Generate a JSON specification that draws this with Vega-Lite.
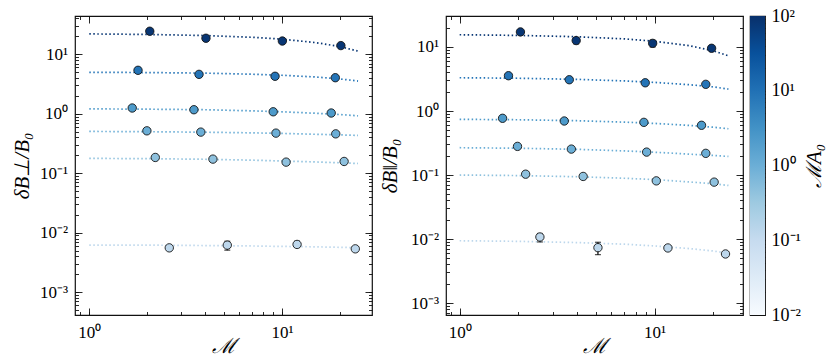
{
  "$schema": "https://vega.github.io/schema/vega-lite/v6.json",
  "autosize": {"type": "pad"},
  "padding": {"left": 10, "top": 6, "right": 2, "bottom": 2},
  "background": "white",
  "config": {
    "view": {"stroke": "#111", "strokeWidth": 1.2},
    "axis": {"domain": false, "grid": false, "ticks": true, "labelFont": "Liberation Serif", "labelFontSize": 17, "labelColor": "black", "titleFont": "Liberation Serif", "titleFontSize": 21, "titleFontWeight": "normal", "titleColor": "black", "tickColor": "#111", "tickWidth": 0.9, "labelOverlap": false, "labelFlush": false, "labelBound": false}
  },
  "datasets": {
    "pts": [
      {"p": "L", "s": 1, "m": 80, "x": 2.06, "y": 24.4}, {"p": "L", "s": 1, "m": 80, "x": 4.03, "y": 18.6}, {"p": "L", "s": 1, "m": 80, "x": 10.04, "y": 16.7}, {"p": "L", "s": 1, "m": 80, "x": 20.2, "y": 14.0},
      {"p": "L", "s": 2, "m": 9, "x": 1.79, "y": 5.38}, {"p": "L", "s": 2, "m": 9, "x": 3.71, "y": 4.6}, {"p": "L", "s": 2, "m": 9, "x": 9.2, "y": 4.27}, {"p": "L", "s": 2, "m": 9, "x": 18.9, "y": 4.04},
      {"p": "L", "s": 3, "m": 2.3, "x": 1.67, "y": 1.25}, {"p": "L", "s": 3, "m": 2.3, "x": 3.49, "y": 1.17}, {"p": "L", "s": 3, "m": 2.3, "x": 9.0, "y": 1.08}, {"p": "L", "s": 3, "m": 2.3, "x": 18.0, "y": 1.03},
      {"p": "L", "s": 4, "m": 1, "x": 1.99, "y": 0.517}, {"p": "L", "s": 4, "m": 1, "x": 3.79, "y": 0.492}, {"p": "L", "s": 4, "m": 1, "x": 9.3, "y": 0.473}, {"p": "L", "s": 4, "m": 1, "x": 19.0, "y": 0.46},
      {"p": "L", "s": 5, "m": 0.45, "x": 2.2, "y": 0.1845}, {"p": "L", "s": 5, "m": 0.45, "x": 4.38, "y": 0.173}, {"p": "L", "s": 5, "m": 0.45, "x": 10.5, "y": 0.154}, {"p": "L", "s": 5, "m": 0.45, "x": 21.0, "y": 0.158},
      {"p": "L", "s": 6, "m": 0.13, "x": 2.6, "y": 0.00558}, {"p": "L", "s": 6, "m": 0.13, "x": 5.2, "y": 0.0062}, {"p": "L", "s": 6, "m": 0.13, "x": 11.97, "y": 0.00637}, {"p": "L", "s": 6, "m": 0.13, "x": 24.0, "y": 0.00537},
      {"p": "R", "s": 1, "m": 80, "x": 2.05, "y": 17.2}, {"p": "R", "s": 1, "m": 80, "x": 3.96, "y": 12.6}, {"p": "R", "s": 1, "m": 80, "x": 9.77, "y": 11.4}, {"p": "R", "s": 1, "m": 80, "x": 19.6, "y": 9.55},
      {"p": "R", "s": 2, "m": 9, "x": 1.78, "y": 3.56}, {"p": "R", "s": 2, "m": 9, "x": 3.65, "y": 3.08}, {"p": "R", "s": 2, "m": 9, "x": 8.95, "y": 2.76}, {"p": "R", "s": 2, "m": 9, "x": 18.3, "y": 2.61},
      {"p": "R", "s": 3, "m": 2.3, "x": 1.66, "y": 0.769}, {"p": "R", "s": 3, "m": 2.3, "x": 3.44, "y": 0.698}, {"p": "R", "s": 3, "m": 2.3, "x": 8.81, "y": 0.665}, {"p": "R", "s": 3, "m": 2.3, "x": 17.4, "y": 0.598},
      {"p": "R", "s": 4, "m": 1, "x": 1.98, "y": 0.28}, {"p": "R", "s": 4, "m": 1, "x": 3.74, "y": 0.254}, {"p": "R", "s": 4, "m": 1, "x": 9.1, "y": 0.228}, {"p": "R", "s": 4, "m": 1, "x": 18.3, "y": 0.218},
      {"p": "R", "s": 5, "m": 0.45, "x": 2.18, "y": 0.103}, {"p": "R", "s": 5, "m": 0.45, "x": 4.3, "y": 0.095}, {"p": "R", "s": 5, "m": 0.45, "x": 10.2, "y": 0.081}, {"p": "R", "s": 5, "m": 0.45, "x": 20.2, "y": 0.0774},
      {"p": "R", "s": 6, "m": 0.13, "x": 2.58, "y": 0.01075}, {"p": "R", "s": 6, "m": 0.13, "x": 5.12, "y": 0.00733}, {"p": "R", "s": 6, "m": 0.13, "x": 11.7, "y": 0.00725}, {"p": "R", "s": 6, "m": 0.13, "x": 23.1, "y": 0.00584}
    ],
    "fit": [
      {"p": "L", "s": 1, "m": 80, "x": 1, "y": 22.0}, {"p": "L", "s": 1, "m": 80, "x": 2, "y": 21.55}, {"p": "L", "s": 1, "m": 80, "x": 4, "y": 20.65}, {"p": "L", "s": 1, "m": 80, "x": 7, "y": 19.3}, {"p": "L", "s": 1, "m": 80, "x": 10, "y": 17.95}, {"p": "L", "s": 1, "m": 80, "x": 15, "y": 15.7}, {"p": "L", "s": 1, "m": 80, "x": 20, "y": 13.46}, {"p": "L", "s": 1, "m": 80, "x": 24.8, "y": 11.3},
      {"p": "L", "s": 2, "m": 9, "x": 1, "y": 4.98}, {"p": "L", "s": 2, "m": 9, "x": 2, "y": 4.93}, {"p": "L", "s": 2, "m": 9, "x": 4, "y": 4.82}, {"p": "L", "s": 2, "m": 9, "x": 7, "y": 4.62}, {"p": "L", "s": 2, "m": 9, "x": 10, "y": 4.44}, {"p": "L", "s": 2, "m": 9, "x": 15, "y": 4.15}, {"p": "L", "s": 2, "m": 9, "x": 20, "y": 3.85}, {"p": "L", "s": 2, "m": 9, "x": 24.8, "y": 3.55},
      {"p": "L", "s": 3, "m": 2.3, "x": 1, "y": 1.21}, {"p": "L", "s": 3, "m": 2.3, "x": 2, "y": 1.195}, {"p": "L", "s": 3, "m": 2.3, "x": 4, "y": 1.17}, {"p": "L", "s": 3, "m": 2.3, "x": 7, "y": 1.12}, {"p": "L", "s": 3, "m": 2.3, "x": 10, "y": 1.08}, {"p": "L", "s": 3, "m": 2.3, "x": 15, "y": 1.02}, {"p": "L", "s": 3, "m": 2.3, "x": 20, "y": 0.97}, {"p": "L", "s": 3, "m": 2.3, "x": 24.8, "y": 0.925},
      {"p": "L", "s": 4, "m": 1, "x": 1, "y": 0.505}, {"p": "L", "s": 4, "m": 1, "x": 2, "y": 0.5}, {"p": "L", "s": 4, "m": 1, "x": 4, "y": 0.49}, {"p": "L", "s": 4, "m": 1, "x": 7, "y": 0.478}, {"p": "L", "s": 4, "m": 1, "x": 10, "y": 0.468}, {"p": "L", "s": 4, "m": 1, "x": 15, "y": 0.452}, {"p": "L", "s": 4, "m": 1, "x": 20, "y": 0.442}, {"p": "L", "s": 4, "m": 1, "x": 24.8, "y": 0.433},
      {"p": "L", "s": 5, "m": 0.45, "x": 1, "y": 0.178}, {"p": "L", "s": 5, "m": 0.45, "x": 2, "y": 0.176}, {"p": "L", "s": 5, "m": 0.45, "x": 4, "y": 0.172}, {"p": "L", "s": 5, "m": 0.45, "x": 7, "y": 0.166}, {"p": "L", "s": 5, "m": 0.45, "x": 10, "y": 0.161}, {"p": "L", "s": 5, "m": 0.45, "x": 15, "y": 0.155}, {"p": "L", "s": 5, "m": 0.45, "x": 20, "y": 0.15}, {"p": "L", "s": 5, "m": 0.45, "x": 24.8, "y": 0.146},
      {"p": "L", "s": 6, "m": 0.13, "x": 1, "y": 0.0062}, {"p": "L", "s": 6, "m": 0.13, "x": 2, "y": 0.0062}, {"p": "L", "s": 6, "m": 0.13, "x": 4, "y": 0.0061}, {"p": "L", "s": 6, "m": 0.13, "x": 7, "y": 0.006}, {"p": "L", "s": 6, "m": 0.13, "x": 10, "y": 0.0059}, {"p": "L", "s": 6, "m": 0.13, "x": 15, "y": 0.0058}, {"p": "L", "s": 6, "m": 0.13, "x": 20, "y": 0.0057}, {"p": "L", "s": 6, "m": 0.13, "x": 24.8, "y": 0.0056},
      {"p": "R", "s": 1, "m": 80, "x": 1, "y": 15.54}, {"p": "R", "s": 1, "m": 80, "x": 2, "y": 15.18}, {"p": "R", "s": 1, "m": 80, "x": 4, "y": 14.46}, {"p": "R", "s": 1, "m": 80, "x": 7, "y": 13.38}, {"p": "R", "s": 1, "m": 80, "x": 10, "y": 12.3}, {"p": "R", "s": 1, "m": 80, "x": 15, "y": 10.5}, {"p": "R", "s": 1, "m": 80, "x": 20, "y": 8.71}, {"p": "R", "s": 1, "m": 80, "x": 23.9, "y": 7.3},
      {"p": "R", "s": 2, "m": 9, "x": 1, "y": 3.31}, {"p": "R", "s": 2, "m": 9, "x": 2, "y": 3.25}, {"p": "R", "s": 2, "m": 9, "x": 4, "y": 3.12}, {"p": "R", "s": 2, "m": 9, "x": 7, "y": 2.95}, {"p": "R", "s": 2, "m": 9, "x": 10, "y": 2.8}, {"p": "R", "s": 2, "m": 9, "x": 15, "y": 2.58}, {"p": "R", "s": 2, "m": 9, "x": 20, "y": 2.38}, {"p": "R", "s": 2, "m": 9, "x": 23.9, "y": 2.2},
      {"p": "R", "s": 3, "m": 2.3, "x": 1, "y": 0.741}, {"p": "R", "s": 3, "m": 2.3, "x": 2, "y": 0.73}, {"p": "R", "s": 3, "m": 2.3, "x": 4, "y": 0.705}, {"p": "R", "s": 3, "m": 2.3, "x": 7, "y": 0.67}, {"p": "R", "s": 3, "m": 2.3, "x": 10, "y": 0.64}, {"p": "R", "s": 3, "m": 2.3, "x": 15, "y": 0.596}, {"p": "R", "s": 3, "m": 2.3, "x": 20, "y": 0.558}, {"p": "R", "s": 3, "m": 2.3, "x": 23.9, "y": 0.528},
      {"p": "R", "s": 4, "m": 1, "x": 1, "y": 0.267}, {"p": "R", "s": 4, "m": 1, "x": 2, "y": 0.262}, {"p": "R", "s": 4, "m": 1, "x": 4, "y": 0.252}, {"p": "R", "s": 4, "m": 1, "x": 7, "y": 0.238}, {"p": "R", "s": 4, "m": 1, "x": 10, "y": 0.227}, {"p": "R", "s": 4, "m": 1, "x": 15, "y": 0.212}, {"p": "R", "s": 4, "m": 1, "x": 20, "y": 0.202}, {"p": "R", "s": 4, "m": 1, "x": 23.9, "y": 0.195},
      {"p": "R", "s": 5, "m": 0.45, "x": 1, "y": 0.1}, {"p": "R", "s": 5, "m": 0.45, "x": 2, "y": 0.098}, {"p": "R", "s": 5, "m": 0.45, "x": 4, "y": 0.094}, {"p": "R", "s": 5, "m": 0.45, "x": 7, "y": 0.089}, {"p": "R", "s": 5, "m": 0.45, "x": 10, "y": 0.085}, {"p": "R", "s": 5, "m": 0.45, "x": 15, "y": 0.078}, {"p": "R", "s": 5, "m": 0.45, "x": 20, "y": 0.073}, {"p": "R", "s": 5, "m": 0.45, "x": 23.9, "y": 0.0687},
      {"p": "R", "s": 6, "m": 0.13, "x": 1, "y": 0.0094}, {"p": "R", "s": 6, "m": 0.13, "x": 2, "y": 0.0092}, {"p": "R", "s": 6, "m": 0.13, "x": 4, "y": 0.0088}, {"p": "R", "s": 6, "m": 0.13, "x": 7, "y": 0.0083}, {"p": "R", "s": 6, "m": 0.13, "x": 10, "y": 0.0078}, {"p": "R", "s": 6, "m": 0.13, "x": 15, "y": 0.0071}, {"p": "R", "s": 6, "m": 0.13, "x": 20, "y": 0.0065}, {"p": "R", "s": 6, "m": 0.13, "x": 23.9, "y": 0.006}
    ],
    "err": [
      {"p": "L", "x": 5.2, "lo": 0.0051, "hi": 0.0072},
      {"p": "L", "x": 11.97, "lo": 0.0057, "hi": 0.0072},
      {"p": "R", "x": 2.58, "lo": 0.009, "hi": 0.0122},
      {"p": "R", "x": 5.12, "lo": 0.0057, "hi": 0.0089},
      {"p": "R", "x": 3.96, "lo": 11.2, "hi": 14.0},
      {"p": "R", "x": 9.77, "lo": 10.0, "hi": 12.8}
    ],
    "cbar": [{"lo": 0.01, "hi": 100}]
  },
  "hconcat": [
    {
      "width": 297, "height": 299,
      "layer": [
        {
          "data": {"name": "fit"}, "transform": [{"filter": "datum.p == 'L'"}],
          "mark": {"type": "line", "strokeDash": [1.5, 2.5], "strokeWidth": 1.7, "clip": true},
          "encoding": {
            "x": {"field": "x", "type": "quantitative", "scale": {"type": "log", "domain": [0.843, 29.3], "nice": false},
              "axis": {"orient": "bottom", "title": "ℳ", "values": [0.9, 1, 2, 3, 4, 5, 6, 7, 8, 9, 10, 20],
                "labelExpr": "abs(log(datum.value)/LN10 - round(log(datum.value)/LN10)) < 0.001 ? '10' + replace(replace(replace(replace(replace(''+round(log(datum.value)/LN10),'-','⁻'),'0','⁰'),'1','¹'),'2','²'),'3','³') : ''",
                "tickSize": -3.5,
                "labelPadding": 13, "titleX": 148.5, "titleY": 31, "titleBaseline": "middle", "titleAlign": "center", "titleFontStyle": "italic"}},
            "y": {"field": "y", "type": "quantitative", "scale": {"type": "log", "domain": [0.000415, 44], "nice": false},
              "axis": {"orient": "left", "title": "δB⊥/B₀", "values": [0.0005, 0.0006, 0.0007, 0.0008, 0.0009, 0.001, 0.002, 0.003, 0.004, 0.005, 0.006, 0.007, 0.008, 0.009, 0.01, 0.02, 0.03, 0.04, 0.05, 0.06, 0.07, 0.08, 0.09, 0.1, 0.2, 0.3, 0.4, 0.5, 0.6, 0.7, 0.8, 0.9, 1, 2, 3, 4, 5, 6, 7, 8, 9, 10, 20, 30, 40],
                "labelExpr": "abs(log(datum.value)/LN10 - round(log(datum.value)/LN10)) < 0.001 ? '10' + replace(replace(replace(replace(replace(''+round(log(datum.value)/LN10),'-','⁻'),'0','⁰'),'1','¹'),'2','²'),'3','³') : ''",
                "tickSize": -3.5,
                "labelPadding": 11, "titleX": -53, "titleY": 149.5, "titleAngle": 270, "titleBaseline": "middle", "titleAlign": "center", "titleFontStyle": "italic"}},
            "stroke": {"field": "m", "type": "quantitative", "scale": {"type": "log", "domain": [0.01, 100], "range": ["#f7fbff", "#deebf7", "#c6dbef", "#9ecae1", "#6baed6", "#4292c6", "#2171b5", "#08519c", "#08306b"], "interpolate": "rgb"}, "legend": null},
            "detail": {"field": "s", "type": "nominal"}
          }
        },
        {
          "data": {"name": "err"}, "transform": [{"filter": "datum.p == 'L'"}],
          "mark": {"type": "rule", "color": "black", "strokeWidth": 1.2},
          "encoding": {
            "x": {"field": "x", "type": "quantitative", "axis": {"orient": "bottom", "title": null, "labels": false, "values": [1, 10], "tickSize": -7}},
            "y": {"field": "lo", "type": "quantitative", "axis": {"orient": "left", "title": null, "labels": false, "values": [0.001, 0.01, 0.1, 1, 10], "tickSize": -7}},
            "y2": {"field": "hi"}}
        },
        {
          "data": {"name": "err"}, "transform": [{"filter": "datum.p == 'L'"}, {"fold": ["lo", "hi"], "as": ["k", "v"]}],
          "mark": {"type": "tick", "orient": "horizontal", "color": "black", "size": 6, "thickness": 1.2},
          "encoding": {
            "x": {"field": "x", "type": "quantitative", "axis": {"orient": "top", "title": null, "labels": false, "values": [1, 10], "tickSize": -7}},
            "y": {"field": "v", "type": "quantitative", "axis": {"orient": "right", "title": null, "labels": false, "values": [0.001, 0.01, 0.1, 1, 10], "tickSize": -7}}}
        },
        {
          "data": {"name": "pts"}, "transform": [{"filter": "datum.p == 'L'"}],
          "mark": {"type": "circle", "size": 70, "stroke": "#141414", "strokeWidth": 0.9, "opacity": 1},
          "encoding": {
            "x": {"field": "x", "type": "quantitative", "axis": {"orient": "top", "title": null, "labels": false, "values": [0.9, 1, 2, 3, 4, 5, 6, 7, 8, 9, 10, 20], "tickSize": -3.5}},
            "y": {"field": "y", "type": "quantitative", "axis": {"orient": "right", "title": null, "labels": false, "values": [0.0005, 0.0006, 0.0007, 0.0008, 0.0009, 0.001, 0.002, 0.003, 0.004, 0.005, 0.006, 0.007, 0.008, 0.009, 0.01, 0.02, 0.03, 0.04, 0.05, 0.06, 0.07, 0.08, 0.09, 0.1, 0.2, 0.3, 0.4, 0.5, 0.6, 0.7, 0.8, 0.9, 1, 2, 3, 4, 5, 6, 7, 8, 9, 10, 20, 30, 40], "tickSize": -3.5}},
            "fill": {"field": "m", "type": "quantitative", "scale": {"type": "log", "domain": [0.01, 100], "range": ["#f7fbff", "#deebf7", "#c6dbef", "#9ecae1", "#6baed6", "#4292c6", "#2171b5", "#08519c", "#08306b"], "interpolate": "rgb"}, "legend": null}
          }
        }
      ],
      "resolve": {"axis": {"x": "independent", "y": "independent"}}
    },
    {
      "hconcat": [
        {
          "width": 297, "height": 299,
          "layer": [
            {
              "data": {"name": "fit"}, "transform": [{"filter": "datum.p == 'R'"}],
              "mark": {"type": "line", "strokeDash": [1.5, 2.5], "strokeWidth": 1.7, "clip": true},
              "encoding": {
                "x": {"field": "x", "type": "quantitative", "scale": {"type": "log", "domain": [0.851, 28.4], "nice": false},
                  "axis": {"orient": "bottom", "title": "ℳ", "values": [0.9, 1, 2, 3, 4, 5, 6, 7, 8, 9, 10, 20],
                    "labelExpr": "abs(log(datum.value)/LN10 - round(log(datum.value)/LN10)) < 0.001 ? '10' + replace(replace(replace(replace(replace(''+round(log(datum.value)/LN10),'-','⁻'),'0','⁰'),'1','¹'),'2','²'),'3','³') : ''",
                    "tickSize": -3.5,
                    "labelPadding": 13, "titleX": 148.5, "titleY": 31, "titleBaseline": "middle", "titleAlign": "center", "titleFontStyle": "italic"}},
                "y": {"field": "y", "type": "quantitative", "scale": {"type": "log", "domain": [0.00065, 30.5], "nice": false},
                  "axis": {"orient": "left", "title": "δB‖/B₀", "values": [0.0007, 0.0008, 0.0009, 0.001, 0.002, 0.003, 0.004, 0.005, 0.006, 0.007, 0.008, 0.009, 0.01, 0.02, 0.03, 0.04, 0.05, 0.06, 0.07, 0.08, 0.09, 0.1, 0.2, 0.3, 0.4, 0.5, 0.6, 0.7, 0.8, 0.9, 1, 2, 3, 4, 5, 6, 7, 8, 9, 10, 20, 30],
                    "labelExpr": "abs(log(datum.value)/LN10 - round(log(datum.value)/LN10)) < 0.001 ? '10' + replace(replace(replace(replace(replace(''+round(log(datum.value)/LN10),'-','⁻'),'0','⁰'),'1','¹'),'2','²'),'3','³') : ''",
                    "tickSize": -3.5,
                    "labelPadding": 11, "titleX": -56, "titleY": 149.5, "titleAngle": 270, "titleBaseline": "middle", "titleAlign": "center", "titleFontStyle": "italic"}},
                "stroke": {"field": "m", "type": "quantitative", "scale": {"type": "log", "domain": [0.01, 100], "range": ["#f7fbff", "#deebf7", "#c6dbef", "#9ecae1", "#6baed6", "#4292c6", "#2171b5", "#08519c", "#08306b"], "interpolate": "rgb"}, "legend": null},
                "detail": {"field": "s", "type": "nominal"}
              }
            },
            {
              "data": {"name": "err"}, "transform": [{"filter": "datum.p == 'R'"}],
              "mark": {"type": "rule", "color": "black", "strokeWidth": 1.2},
              "encoding": {
                "x": {"field": "x", "type": "quantitative", "axis": {"orient": "bottom", "title": null, "labels": false, "values": [1, 10], "tickSize": -7}},
                "y": {"field": "lo", "type": "quantitative", "axis": {"orient": "left", "title": null, "labels": false, "values": [0.001, 0.01, 0.1, 1, 10], "tickSize": -7}},
                "y2": {"field": "hi"}}
            },
            {
              "data": {"name": "err"}, "transform": [{"filter": "datum.p == 'R'"}, {"fold": ["lo", "hi"], "as": ["k", "v"]}],
              "mark": {"type": "tick", "orient": "horizontal", "color": "black", "size": 6, "thickness": 1.2},
              "encoding": {
                "x": {"field": "x", "type": "quantitative", "axis": {"orient": "top", "title": null, "labels": false, "values": [1, 10], "tickSize": -7}},
                "y": {"field": "v", "type": "quantitative", "axis": {"orient": "right", "title": null, "labels": false, "values": [0.001, 0.01, 0.1, 1, 10], "tickSize": -7}}}
            },
            {
              "data": {"name": "pts"}, "transform": [{"filter": "datum.p == 'R'"}],
              "mark": {"type": "circle", "size": 70, "stroke": "#141414", "strokeWidth": 0.9, "opacity": 1},
              "encoding": {
                "x": {"field": "x", "type": "quantitative", "axis": {"orient": "top", "title": null, "labels": false, "values": [0.9, 1, 2, 3, 4, 5, 6, 7, 8, 9, 10, 20], "tickSize": -3.5}},
                "y": {"field": "y", "type": "quantitative", "axis": {"orient": "right", "title": null, "labels": false, "values": [0.0007, 0.0008, 0.0009, 0.001, 0.002, 0.003, 0.004, 0.005, 0.006, 0.007, 0.008, 0.009, 0.01, 0.02, 0.03, 0.04, 0.05, 0.06, 0.07, 0.08, 0.09, 0.1, 0.2, 0.3, 0.4, 0.5, 0.6, 0.7, 0.8, 0.9, 1, 2, 3, 4, 5, 6, 7, 8, 9, 10, 20, 30], "tickSize": -3.5}},
                "fill": {"field": "m", "type": "quantitative", "scale": {"type": "log", "domain": [0.01, 100], "range": ["#f7fbff", "#deebf7", "#c6dbef", "#9ecae1", "#6baed6", "#4292c6", "#2171b5", "#08519c", "#08306b"], "interpolate": "rgb"}, "legend": null}
              }
            }
          ],
          "resolve": {"axis": {"x": "independent", "y": "independent"}}
        },
        {
          "width": 15, "height": 299,
          "data": {"name": "cbar"},
          "mark": {"type": "rect", "fill": {"gradient": "linear", "x1": 0, "y1": 1, "x2": 0, "y2": 0, "stops": [
            {"offset": 0, "color": "#f7fbff"}, {"offset": 0.125, "color": "#deebf7"}, {"offset": 0.25, "color": "#c6dbef"}, {"offset": 0.375, "color": "#9ecae1"}, {"offset": 0.5, "color": "#6baed6"}, {"offset": 0.625, "color": "#4292c6"}, {"offset": 0.75, "color": "#2171b5"}, {"offset": 0.875, "color": "#08519c"}, {"offset": 1, "color": "#08306b"}]}},
          "encoding": {
            "y": {"field": "lo", "type": "quantitative", "scale": {"type": "log", "domain": [0.01, 100], "nice": false},
              "axis": {"orient": "right", "title": "ℳA₀", "values": [0.01, 0.02, 0.03, 0.04, 0.05, 0.06, 0.07, 0.08, 0.09, 0.1, 0.2, 0.3, 0.4, 0.5, 0.6, 0.7, 0.8, 0.9, 1, 2, 3, 4, 5, 6, 7, 8, 9, 10, 20, 30, 40, 50, 60, 70, 80, 90, 100],
                "labelExpr": "abs(log(datum.value)/LN10 - round(log(datum.value)/LN10)) < 0.001 ? '10' + replace(replace(replace(replace(replace(''+round(log(datum.value)/LN10),'-','⁻'),'0','⁰'),'1','¹'),'2','²'),'3','³') : ''",
                "labelFontSize": 18, "tickSize": -4, "labelPadding": 10, "titleX": 49, "titleY": 149.5, "titleAngle": 270, "titleBaseline": "middle", "titleAlign": "center", "titleFontStyle": "italic"}},
            "y2": {"field": "hi"}
          }
        }
      ],
      "spacing": 7,
      "bounds": "flush"
    }
  ],
  "spacing": 74,
  "bounds": "flush"
}
